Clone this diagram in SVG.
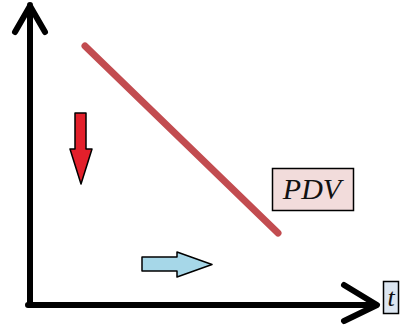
<svg xmlns="http://www.w3.org/2000/svg" width="407" height="325" viewBox="0 0 407 325">
<style>
.axis{fill:none;stroke:#000;stroke-width:6;stroke-linecap:round;stroke-linejoin:round}
.lbl{font-family:"Liberation Serif","DejaVu Serif",serif;font-style:italic;fill:#111}
.box{stroke:#000;stroke-width:1.5}
</style>
<rect width="407" height="325" fill="#fff"/>
<g id="axes">
<path class="axis" d="M30,302 V5 M15,32 L30,6 L45,32"/>
<path class="axis" d="M28,305 H376 M344,285 L377,305 L344,321"/>
</g>
<g id="pdv-line">
<line x1="85" y1="46" x2="278" y2="233" stroke="#c24c50" stroke-width="7" stroke-linecap="round"/>
</g>
<g id="down-arrow">
<path d="M75,113 H86 V149 H92 L81,184 L70,149 H75 Z" fill="#e3202b" stroke="#000" stroke-width="1.5" stroke-linejoin="round"/>
</g>
<g id="right-arrow">
<path d="M142,257 H177 V252 L212,264.5 L177,277 V271 H142 Z" fill="#a6d7e8" stroke="#000" stroke-width="1.5" stroke-linejoin="round"/>
</g>
<g id="pdv-label">
<rect class="box" x="272.5" y="168.5" width="81" height="42" fill="#f2dcdb"/>
<text class="lbl" x="312" y="199" font-size="30" text-anchor="middle">PDV</text>
</g>
<g id="t-label">
<rect class="box" x="383.5" y="281.5" width="15" height="32" fill="#dce6f1"/>
<text class="lbl" x="391" y="306" font-size="26" text-anchor="middle">t</text>
</g>
</svg>
